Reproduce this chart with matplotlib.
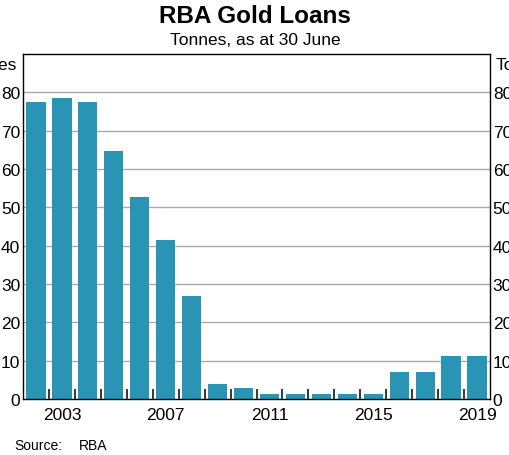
import numpy as np
import matplotlib
matplotlib.use("Agg")
import matplotlib.pyplot as plt
from matplotlib.ticker import FixedLocator

years = list(range(2002, 2020))
tonnes = [77.5, 78.5, 77.5, 64.7, 52.7, 41.6, 27.0, 4.0, 3.0, 1.2,
          1.2, 1.2, 1.2, 1.2, 7.0, 7.0, 11.1, 11.1]
label_years = [2003, 2007, 2011, 2015, 2019]
y_ticks = [0, 10, 20, 30, 40, 50, 60, 70, 80]

plt.rcParams['font.family'] = ['Liberation Sans', 'DejaVu Sans']

fig = plt.figure(figsize=(5.1, 4.56), dpi=100)
ax = fig.add_axes([0.0451, 0.1228, 0.9157, 0.7566])

ax.bar(years, tonnes, width=0.74, color='#2A94B5', zorder=2)
ax.set_xlim(years[0] - 0.5, years[-1] + 0.5)
ax.set_ylim(0, 90)

ax.set_yticks(y_ticks)
ax.yaxis.grid(True, color='#AAAAAA', linewidth=1.0, zorder=0)
ax.tick_params(axis='y', length=0, labelsize=12.5, pad=2,
               left=True, right=True, labelleft=True, labelright=True)

# year labels centred on bars, tick marks between years
ax.set_xticks(label_years)
ax.set_xticklabels([str(y) for y in label_years])
ax.tick_params(axis='x', which='major', length=0, labelsize=12.5, pad=6)
ax.xaxis.set_minor_locator(FixedLocator([y + 0.5 for y in years[:-1]]))
ax.tick_params(axis='x', which='minor', direction='in', length=7,
               width=1.1, color='black')

for s in ax.spines.values():
    s.set_linewidth(1.0)
    s.set_color('black')

ax.text(-0.012, 0.97, 'Tonnes', transform=ax.transAxes, ha='right',
        va='center', fontsize=12.5)
ax.text(1.012, 0.97, 'Tonnes', transform=ax.transAxes, ha='left',
        va='center', fontsize=12.5)

fig.text(0.5, 0.963, 'RBA Gold Loans', ha='center', va='center',
         fontsize=17.5, fontweight='bold')
fig.text(0.5, 0.912, 'Tonnes, as at 30 June', ha='center', va='center',
         fontsize=12.5)
fig.text(0.029, 0.022, 'Source:', ha='left', va='center', fontsize=10)
fig.text(0.155, 0.022, 'RBA', ha='left', va='center', fontsize=10)

fig.savefig('out.png', dpi=100)
